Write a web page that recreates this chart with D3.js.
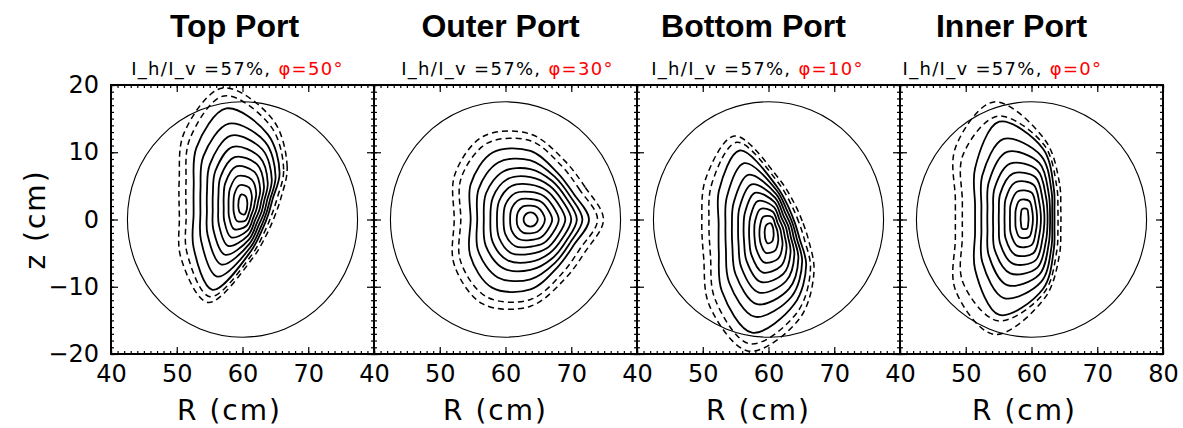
<!DOCTYPE html>
<html>
<head>
<meta charset="utf-8">
<script src="https://cdn.jsdelivr.net/npm/d3@7"></script>
<style>
body { margin: 0; background: #fff; }
</style>
</head>
<body>
<svg id="chart" width="1183" height="428"></svg>
<script>
// panel titles and labels
var portNames = ["Top Port", "Outer Port", "Bottom Port", "Inner Port"];
var ratioLabel = "I_h/I_v =57%, ";
var phiLabels = ["\u03c6=50\u00b0", "\u03c6=30\u00b0", "\u03c6=10\u00b0", "\u03c6=0\u00b0"];
var xTicks = [40, 50, 60, 70, 80];
var yTicks = [-20, -10, 0, 10, 20];

// vessel boundary: R0, z0, radius (cm)
var vesselCircle = [60, 0, 17.5];

// magnetic axis (R, z) of each panel
var axisCenters = [[60.05, 2.23], [63.8, 0], [60.1, -2.05], [58.95, 0.1]];

// directions (deg) along which contour radii were read
var rayAngles = [
    [10, 40, 70, 100, 130, 160, 190, 220, 250, 280, 310, 340],
    [0, 30, 60, 90, 120, 150, 180, 210, 240, 270, 300, 330],
    [-10, 20, 50, 80, 110, 140, 170, 200, 230, 260, 290, 320],
    [15, 45, 75, 105, 135, 165, 195, 225, 255, 285, 315, 345]
];

// radius (cm) of each contour along each ray, innermost first; last two are dashed
var topPortRadii = [
    [0.7, 0.85, 1.3, 1.5, 0.95, 0.7, 0.7, 0.85, 1.3, 1.5, 0.95, 0.7],
    [1.3, 1.8, 2.7, 2.9, 2.0, 1.5, 1.45, 1.8, 2.6, 2.4, 1.5, 1.25],
    [1.85, 2.65, 3.95, 4.3, 3.05, 2.3, 2.2, 2.75, 3.9, 3.2, 2.0, 1.75],
    [2.35, 3.45, 5.15, 5.75, 4.15, 3.1, 2.95, 3.7, 5.2, 3.95, 2.5, 2.2],
    [2.85, 4.2, 6.35, 7.15, 5.3, 3.95, 3.8, 4.75, 6.55, 4.65, 2.95, 2.65],
    [3.3, 4.95, 7.5, 8.7, 6.5, 4.85, 4.65, 5.85, 7.95, 5.3, 3.4, 3.05],
    [3.75, 5.75, 8.7, 10.4, 7.8, 5.8, 5.55, 7.0, 9.5, 5.9, 3.85, 3.45],
    [4.2, 6.5, 9.9, 12.2, 9.35, 6.85, 6.55, 8.3, 11.4, 6.5, 4.3, 3.8],
    [4.6, 7.3, 11.1, 14.5, 11.0, 7.95, 7.6, 9.8, 13.5, 7.05, 4.7, 4.15],
    [5.3, 8.1, 12.4, 16.4, 12.6, 9.2, 8.75, 11.1, 14.6, 7.65, 5.2, 4.65],
    [5.9, 8.8, 13.4, 17.6, 13.9, 10.3, 9.8, 12.3, 15.5, 8.2, 5.7, 5.15]
];
var outerPortRadii = [
    [1.1, 1.05, 1.05, 1.05, 1.05, 1.05, 1.05, 1.05, 1.05, 1.05, 1.05, 1.05],
    [2.2, 2.1, 2.1, 2.05, 2.25, 2.2, 2.1, 2.2, 2.25, 2.05, 2.1, 2.1],
    [3.3, 3.05, 3.1, 3.05, 3.4, 3.3, 3.1, 3.3, 3.4, 3.05, 3.1, 3.05],
    [4.3, 3.95, 4.05, 4.1, 4.55, 4.4, 4.1, 4.4, 4.6, 4.05, 4.05, 3.95],
    [5.3, 4.8, 4.95, 5.2, 5.75, 5.5, 5.1, 5.5, 5.8, 5.1, 4.95, 4.8],
    [6.2, 5.6, 5.8, 6.3, 6.95, 6.6, 6.1, 6.65, 7.0, 6.3, 5.8, 5.6],
    [7.05, 6.3, 6.6, 7.5, 8.25, 7.8, 7.1, 7.85, 8.35, 7.5, 6.65, 6.3],
    [7.9, 6.95, 7.35, 8.8, 9.8, 9.1, 8.1, 9.2, 9.95, 8.9, 7.45, 6.95],
    [8.9, 7.6, 8.1, 10.2, 11.5, 10.5, 9.1, 10.6, 11.7, 10.4, 8.2, 7.6],
    [10.2, 8.7, 9.3, 11.7, 13.1, 12.2, 10.6, 12.3, 13.3, 11.9, 9.4, 8.7],
    [11.1, 9.6, 10.2, 12.7, 14.3, 13.3, 11.6, 13.4, 14.5, 12.9, 10.3, 9.6]
];
var bottomPortRadii = [
    [0.7, 0.7, 0.95, 1.5, 1.3, 0.85, 0.7, 0.7, 0.95, 1.5, 1.3, 0.85],
    [1.35, 1.3, 1.5, 2.45, 2.6, 1.8, 1.5, 1.55, 2.0, 2.95, 2.7, 1.8],
    [1.9, 1.8, 2.0, 3.25, 3.85, 2.8, 2.3, 2.35, 3.05, 4.4, 4.0, 2.65],
    [2.4, 2.25, 2.5, 4.0, 5.1, 3.75, 3.1, 3.2, 4.2, 5.9, 5.2, 3.45],
    [2.9, 2.7, 2.95, 4.7, 6.4, 4.8, 3.95, 4.05, 5.35, 7.35, 6.4, 4.25],
    [3.35, 3.1, 3.4, 5.35, 7.75, 5.9, 4.8, 4.95, 6.6, 8.95, 7.55, 5.0],
    [3.8, 3.5, 3.85, 5.95, 9.25, 7.05, 5.75, 5.95, 7.95, 10.7, 8.8, 5.8],
    [4.25, 3.85, 4.3, 6.5, 11.1, 8.4, 6.75, 7.0, 9.5, 12.6, 10.0, 6.55],
    [4.7, 4.2, 4.75, 7.0, 13.1, 9.95, 7.8, 8.15, 11.2, 15.0, 11.2, 7.35],
    [5.45, 4.8, 5.35, 7.7, 14.4, 11.4, 9.3, 9.5, 12.8, 16.7, 12.5, 8.2],
    [6.1, 5.35, 5.9, 8.3, 15.4, 12.6, 10.4, 10.6, 14.1, 17.8, 13.5, 8.9]
];
var innerPortRadii = [
    [0.62, 0.8, 1.5, 1.5, 0.8, 0.62, 0.62, 0.8, 1.5, 1.5, 0.8, 0.62],
    [1.3, 1.65, 2.75, 2.85, 1.9, 1.45, 1.45, 1.9, 2.85, 2.75, 1.65, 1.3],
    [1.95, 2.45, 4.05, 4.2, 3.0, 2.3, 2.3, 3.0, 4.2, 4.05, 2.45, 1.95],
    [2.55, 3.2, 5.25, 5.6, 4.1, 3.15, 3.15, 4.1, 5.55, 5.25, 3.2, 2.55],
    [3.1, 3.9, 6.4, 6.95, 5.25, 4.05, 4.05, 5.25, 6.9, 6.4, 3.9, 3.1],
    [3.6, 4.6, 7.5, 8.5, 6.45, 4.95, 4.95, 6.45, 8.4, 7.5, 4.6, 3.6],
    [4.0, 5.2, 8.6, 10.3, 7.7, 5.85, 5.85, 7.7, 10.2, 8.6, 5.2, 4.0],
    [4.35, 5.8, 9.7, 12.3, 9.1, 6.8, 6.8, 9.1, 12.2, 9.7, 5.8, 4.35],
    [4.7, 6.3, 10.8, 14.95, 10.65, 7.8, 7.8, 10.65, 14.8, 10.8, 6.3, 4.7],
    [5.25, 6.9, 11.4, 15.8, 13.3, 9.8, 9.8, 13.3, 15.7, 11.4, 6.9, 5.25],
    [5.7, 7.5, 12.1, 18.0, 14.9, 10.9, 10.9, 14.9, 17.8, 12.1, 7.5, 5.7]
];
var allRadii = [topPortRadii, outerPortRadii, bottomPortRadii, innerPortRadii];
var firstDashed = 9;

var panelLeft = 111,
    panelWidth = 263,
    plotTop = 85,
    plotBottom = 354;

var titleShift = [-8, -5, -15, -20];
var subShift = [-5, 2, -11, -29];
var xLabelShift = [-13, -10, -10, -7];

var svg = d3.select("#chart");
var fmt = d3.format("d");

portNames.forEach(function(name, p) {
    var left = panelLeft + p * panelWidth;
    var cx = left + panelWidth / 2;

    var x = d3.scaleLinear().domain([40, 80]).range([left, left + panelWidth]);
    var y = d3.scaleLinear().domain([-20, 20]).range([plotBottom, plotTop]);

    var g = svg.append("g").attr("class", "panel");

    g.append("clipPath").attr("id", "clip" + p)
        .append("rect")
        .attr("x", left).attr("y", plotTop)
        .attr("width", panelWidth).attr("height", plotBottom - plotTop);

    var plot = g.append("g").attr("clip-path", "url(#clip" + p + ")");

    // vessel circle
    plot.append("ellipse")
        .attr("cx", x(vesselCircle[0]))
        .attr("cy", y(vesselCircle[1]))
        .attr("rx", x(vesselCircle[0] + vesselCircle[2]) - x(vesselCircle[0]))
        .attr("ry", y(vesselCircle[1]) - y(vesselCircle[1] + vesselCircle[2]))
        .attr("fill", "none")
        .attr("stroke", "#000")
        .attr("stroke-width", 1.1);

    // flux contours
    var c = axisCenters[p];
    var angles = rayAngles[p];
    var line = d3.line()
        .x(function(d) { return x(d[0]); })
        .y(function(d) { return y(d[1]); })
        .curve(d3.curveCatmullRomClosed.alpha(0.5));

    plot.selectAll(".contour")
        .data(allRadii[p])
        .enter().append("path")
        .attr("class", "contour")
        .attr("d", function(radii) {
            var pts = radii.map(function(r, i) {
                var a = angles[i] * Math.PI / 180;
                return [c[0] + r * Math.cos(a), c[1] + r * Math.sin(a)];
            });
            return line(pts);
        })
        .attr("fill", "none")
        .attr("stroke", "#000")
        .attr("stroke-width", function(d, i) { return i >= firstDashed ? 1.5 : 1.8; })
        .attr("stroke-dasharray", function(d, i) { return i >= firstDashed ? "6,4" : null; });

    // axes with inward ticks on all four sides
    var minorX = d3.range(40, 81, 1);
    var minorY = d3.range(-20, 21, 1);

    function styleAxis(sel) {
        sel.select(".domain").remove();
        sel.selectAll(".tick line").attr("stroke-width", 1.2);
        sel.selectAll("text")
            .style("font-family", "'DejaVu Sans', sans-serif")
            .style("font-size", "24px")
            .attr("fill", "#000");
    }

    g.append("g").attr("transform", "translate(0," + plotBottom + ")")
        .call(d3.axisBottom(x).tickValues(minorX).tickSize(-3).tickFormat(""))
        .call(styleAxis);
    g.append("g").attr("transform", "translate(0," + plotTop + ")")
        .call(d3.axisTop(x).tickValues(minorX).tickSize(-3).tickFormat(""))
        .call(styleAxis);
    g.append("g").attr("transform", "translate(" + left + ",0)")
        .call(d3.axisLeft(y).tickValues(minorY).tickSize(-3).tickFormat(""))
        .call(styleAxis);
    g.append("g").attr("transform", "translate(" + (left + panelWidth) + ",0)")
        .call(d3.axisRight(y).tickValues(minorY).tickSize(-3).tickFormat(""))
        .call(styleAxis);

    g.append("g").attr("transform", "translate(0," + plotBottom + ")")
        .call(d3.axisBottom(x).tickValues(xTicks).tickSize(-7).tickPadding(11)
            .tickFormat(function(d) { return (d === 80 && p < 3) ? "" : fmt(d); }))
        .call(styleAxis);

    g.append("g").attr("transform", "translate(0," + plotTop + ")")
        .call(d3.axisTop(x).tickValues(xTicks).tickSize(-7).tickFormat(""))
        .call(styleAxis);

    g.append("g").attr("transform", "translate(" + left + ",0)")
        .call(d3.axisLeft(y).tickValues(yTicks).tickSize(-7).tickPadding(12)
            .tickFormat(function(d) { return p === 0 ? fmt(d) : ""; }))
        .call(styleAxis);

    g.append("g").attr("transform", "translate(" + (left + panelWidth) + ",0)")
        .call(d3.axisRight(y).tickValues(yTicks).tickSize(-7).tickFormat(""))
        .call(styleAxis);

    // frame
    g.append("rect")
        .attr("x", left).attr("y", plotTop)
        .attr("width", panelWidth).attr("height", plotBottom - plotTop)
        .attr("fill", "none")
        .attr("stroke", "#000")
        .attr("stroke-width", 2);

    // titles
    g.append("text")
        .attr("x", cx + titleShift[p]).attr("y", 37)
        .attr("text-anchor", "middle")
        .style("font-family", "'Liberation Sans', Arial, sans-serif")
        .style("font-weight", "bold")
        .style("font-size", "32px")
        .text(name);

    var sub = g.append("text")
        .attr("x", cx + subShift[p]).attr("y", 75)
        .attr("text-anchor", "middle")
        .style("font-family", "'DejaVu Sans', sans-serif")
        .style("font-size", "18px")
        .attr("letter-spacing", 1.3);
    sub.append("tspan").text(ratioLabel);
    sub.append("tspan").attr("fill", "#ff0000").text(phiLabels[p]);

    g.append("text")
        .attr("x", cx + xLabelShift[p]).attr("y", 420)
        .attr("text-anchor", "middle")
        .style("font-family", "'DejaVu Sans', sans-serif")
        .style("font-size", "28px")
        .attr("letter-spacing", 2)
        .text("R (cm)");
});

svg.append("text")
    .attr("transform", "translate(45," + ((plotTop + plotBottom) / 2) + ") rotate(-90)")
    .attr("text-anchor", "middle")
    .style("font-family", "'DejaVu Sans', sans-serif")
    .style("font-size", "28px")
    .attr("letter-spacing", 2)
    .text("z (cm)");
</script>
</body>
</html>
